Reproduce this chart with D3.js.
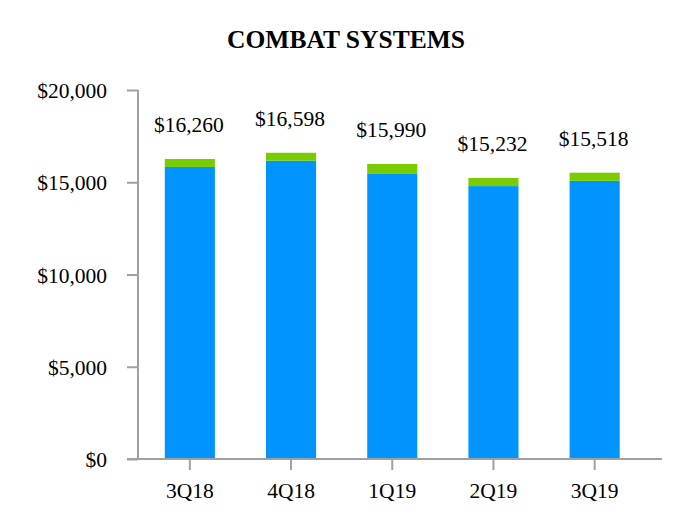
<!DOCTYPE html>
<html><head><meta charset="utf-8">
<script src="https://cdn.jsdelivr.net/npm/d3@7"></script>
<style>
html,body{margin:0;padding:0;background:#fff;}
text{font-family:"Liberation Serif","Times New Roman",serif;fill:#000;}
</style></head>
<body><svg id="c" width="692" height="532"></svg>
<script>
const categories = ["3Q18","4Q18","1Q19","2Q19","3Q19"];
const totals = [16260, 16598, 15990, 15232, 15518];
const greenPart = [430, 430, 540, 440, 440];
const bluePart = totals.map((t,i)=>t-greenPart[i]);
const yTicks = [0, 5000, 10000, 15000, 20000];
const title = "COMBAT SYSTEMS";

const svg = d3.select("#c");
const x = d3.scaleBand().domain(categories).range([139.5, 645]).paddingInner(0.505).paddingOuter(0.25);
const y = d3.scaleLinear().domain([0,20000]).range([459, 90]);
const fmt = v => "$" + d3.format(",")(v);
const fs = "21.5px";

svg.append("text").attr("x",346).attr("y",48).attr("text-anchor","middle")
  .style("font-size","25.5px").style("font-weight","bold").text(title);

// bars
const g = svg.append("g");
g.selectAll("rect.blue").data(categories).join("rect")
  .attr("x",d=>x(d)).attr("width",x.bandwidth())
  .attr("y",(d,i)=>y(bluePart[i])).attr("height",(d,i)=>y(0)-y(bluePart[i]))
  .attr("fill","#0094FF");
g.selectAll("rect.green").data(categories).join("rect")
  .attr("x",d=>x(d)).attr("width",x.bandwidth())
  .attr("y",(d,i)=>y(totals[i])).attr("height",(d,i)=>y(bluePart[i])-y(totals[i]))
  .attr("fill","#78CC00");
g.selectAll("text.lbl").data(categories).join("text")
  .attr("x",d=>x(d)+x.bandwidth()/2 - 1).attr("y",(d,i)=>y(totals[i])-27)
  .attr("text-anchor","middle").style("font-size",fs)
  .text((d,i)=>fmt(totals[i]));

// y axis
const yAxis = d3.axisLeft(y).tickValues(yTicks).tickFormat(fmt).tickSize(11).tickPadding(20);
const ya = svg.append("g").attr("transform","translate(138,0)").call(yAxis);
ya.select(".domain").attr("d","M0,90V459").attr("stroke","#A0A0A0").attr("stroke-width",2);
ya.selectAll(".tick line").attr("stroke","#A0A0A0").attr("stroke-width",2);
ya.selectAll(".tick text").style("font-size",fs).style("font-family","Liberation Serif, serif").attr("fill","#000").attr("dy","0.35em");

// x axis
const xAxis = d3.axisBottom(x).tickSize(11).tickPadding(13);
const xa = svg.append("g").attr("transform","translate(0,459)").call(xAxis);
xa.select(".domain").attr("d","M127,0H662").attr("stroke","#A0A0A0").attr("stroke-width",2);
xa.selectAll(".tick line").attr("stroke","#A0A0A0").attr("stroke-width",2);
xa.selectAll(".tick text").style("font-size",fs).style("font-family","Liberation Serif, serif").attr("fill","#000");
</script></body></html>
